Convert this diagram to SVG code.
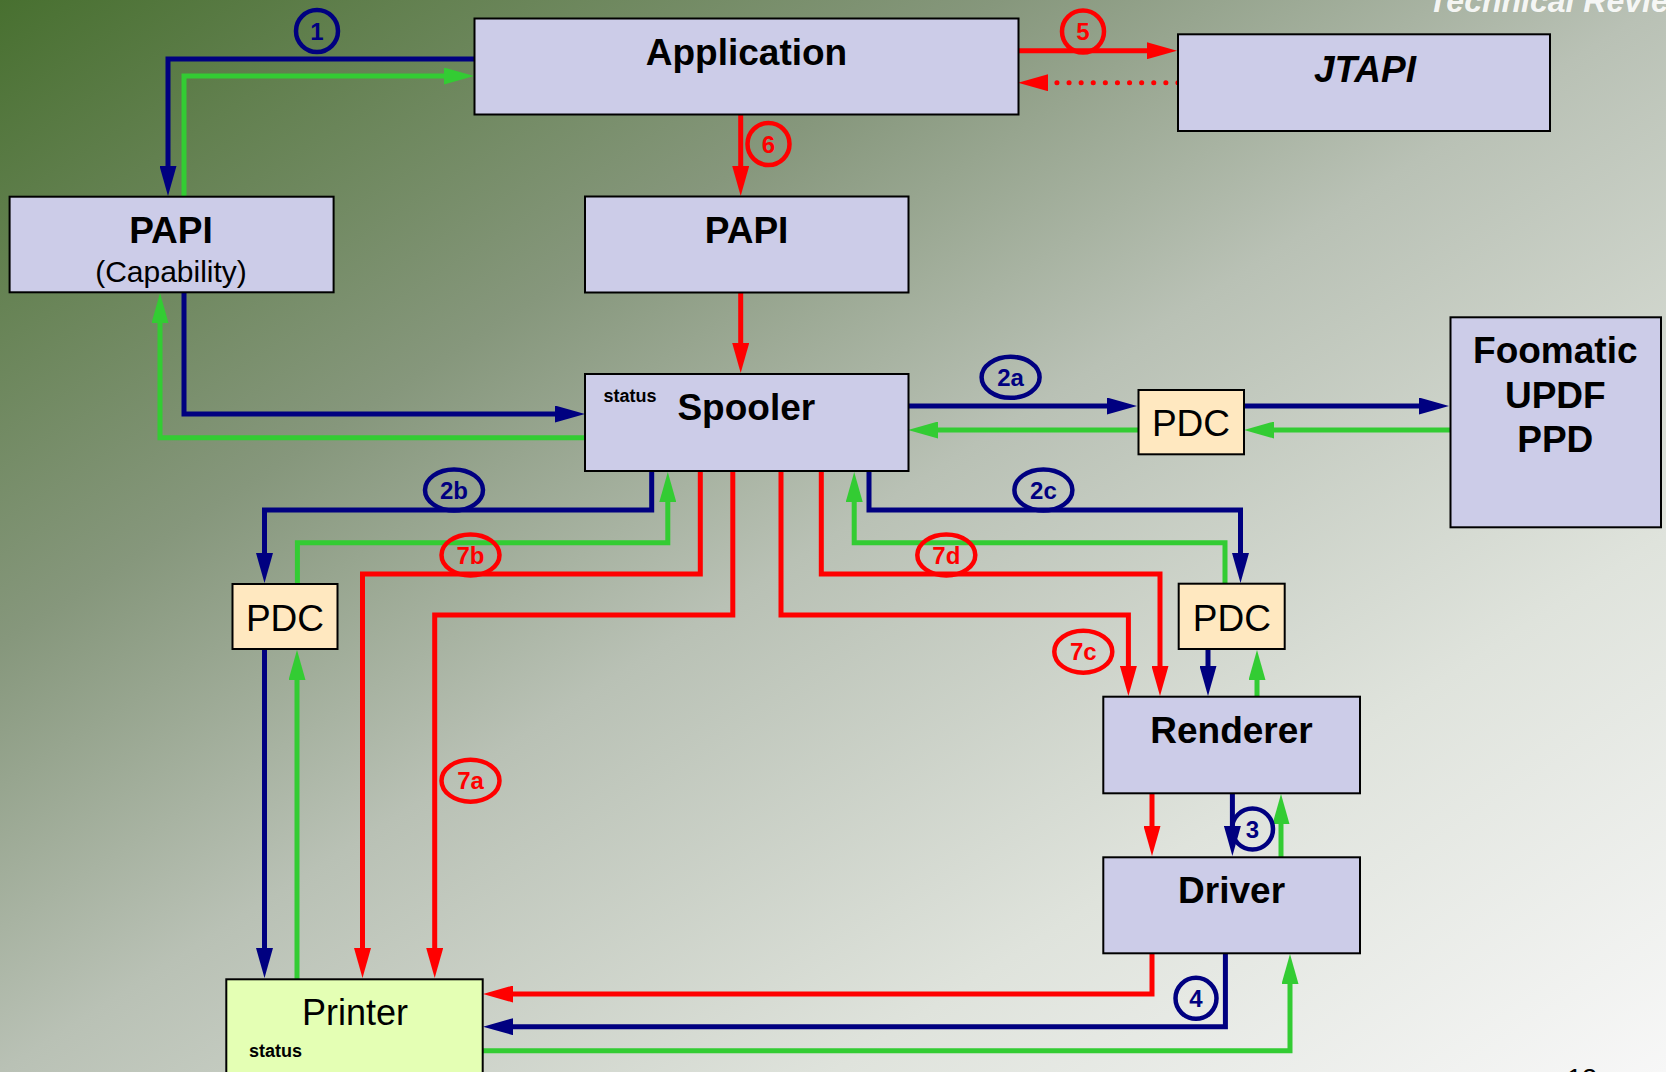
<svg xmlns="http://www.w3.org/2000/svg" width="1666" height="1072" viewBox="0 0 1666 1072">
<defs>
<linearGradient id="bg" x1="0" y1="0" x2="1" y2="1">
<stop offset="0" stop-color="#487030"/>
<stop offset="0.12" stop-color="#62804f"/>
<stop offset="0.3" stop-color="#86977c"/>
<stop offset="0.5" stop-color="#b9c1b5"/>
<stop offset="0.75" stop-color="#dfe3dc"/>
<stop offset="1" stop-color="#f7f7f7"/>
</linearGradient>
<marker id="aN" markerUnits="userSpaceOnUse" markerWidth="30" markerHeight="17" refX="2" refY="8.5" orient="auto"><path d="M0,0 L30,8.5 L0,17 z" fill="#000080"/></marker>
<marker id="aG" markerUnits="userSpaceOnUse" markerWidth="30" markerHeight="17" refX="2" refY="8.5" orient="auto"><path d="M0,0 L30,8.5 L0,17 z" fill="#33cc33"/></marker>
<marker id="aR" markerUnits="userSpaceOnUse" markerWidth="30" markerHeight="17" refX="2" refY="8.5" orient="auto"><path d="M0,0 L30,8.5 L0,17 z" fill="#ff0000"/></marker>
<style>
.box{fill:#ccccE8;stroke:#000;stroke-width:2}
.pdc{fill:#ffe8c0;stroke:#000;stroke-width:2}
.prn{fill:#e4ffb4;stroke:#000;stroke-width:2}
.t{font-family:"Liberation Sans",Arial,sans-serif;font-weight:bold;font-size:37px;text-anchor:middle;fill:#000}
.tr{font-family:"Liberation Sans",Arial,sans-serif;font-size:37px;text-anchor:middle;fill:#000}
.st{font-family:"Liberation Sans",Arial,sans-serif;font-weight:bold;font-size:18px;fill:#000}
.n{fill:none;stroke:#000080;stroke-width:5}
.g{fill:none;stroke:#33cc33;stroke-width:5}
.r{fill:none;stroke:#ff0000;stroke-width:5}
.ln{fill:none;stroke-width:4.5}
.lt{font-family:"Liberation Sans",Arial,sans-serif;font-weight:bold;font-size:24px;text-anchor:middle}
</style>
</defs>
<rect x="0" y="0" width="1666" height="1072" fill="url(#bg)"/>
<text x="1428" y="12" font-family="Liberation Sans, Arial, sans-serif" font-weight="bold" font-style="italic" font-size="32" fill="#ffffff" fill-opacity="0.9">Technical Review</text>
<text x="1567" y="1088" font-family="Liberation Sans, Arial, sans-serif" font-size="27" fill="#000">12</text>

<g id="connectors">
<path class="n" d="M474,59 H168 V168" marker-end="url(#aN)"/>
<path class="n" d="M184,292 V414 H557" marker-end="url(#aN)"/>
<path class="n" d="M908,406 H1109" marker-end="url(#aN)"/>
<path class="n" d="M1244,406 H1421" marker-end="url(#aN)"/>
<path class="n" d="M651.7,471 V510 H264.5 V555" marker-end="url(#aN)"/>
<path class="n" d="M869,471 V510 H1240.5 V555" marker-end="url(#aN)"/>
<path class="n" d="M264.5,649 V950" marker-end="url(#aN)"/>
<path class="n" d="M1208,649 V668" marker-end="url(#aN)"/>
<path class="n" d="M1232.4,793 V828" marker-end="url(#aN)"/>
<path class="n" d="M1225.4,953 V1026.7 H511" marker-end="url(#aN)"/>

<path class="g" d="M184,197 V76 H446" marker-end="url(#aG)"/>
<path class="g" d="M585,437.7 H160 V321" marker-end="url(#aG)"/>
<path class="g" d="M1138,430 H936" marker-end="url(#aG)"/>
<path class="g" d="M1450,430 H1272" marker-end="url(#aG)"/>
<path class="g" d="M297.4,584 V542.7 H667.8 V500" marker-end="url(#aG)"/>
<path class="g" d="M1225,584 V542.7 H854.2 V500" marker-end="url(#aG)"/>
<path class="g" d="M297,979 V678" marker-end="url(#aG)"/>
<path class="g" d="M1257,697 V678" marker-end="url(#aG)"/>
<path class="g" d="M1281,857 V822" marker-end="url(#aG)"/>
<path class="g" d="M483,1050.7 H1290 V982" marker-end="url(#aG)"/>

<path class="r" d="M740.7,115 V168" marker-end="url(#aR)"/>
<path class="r" d="M740.7,292 V345" marker-end="url(#aR)"/>
<path class="r" d="M1018,50.7 H1149" marker-end="url(#aR)"/>
<path class="r" d="M1178,82.7 H1046" stroke-linecap="round" stroke-dasharray="0.1 12" marker-end="url(#aR)"/>
<path class="r" d="M700.3,471 V574 H362.5 V950" marker-end="url(#aR)"/>
<path class="r" d="M732.8,471 V615 H434.7 V950" marker-end="url(#aR)"/>
<path class="r" d="M781,471 V615 H1128.4 V668" marker-end="url(#aR)"/>
<path class="r" d="M821.3,471 V574 H1160 V668" marker-end="url(#aR)"/>
<path class="r" d="M1152,793 V828" marker-end="url(#aR)"/>
<path class="r" d="M1152,953 V994 H511" marker-end="url(#aR)"/>
</g>

<g id="labels">
<circle class="ln" cx="317" cy="31" r="21" stroke="#000080"/><text class="lt" x="317" y="39.5" fill="#000080">1</text>
<circle class="ln" cx="1083" cy="31.5" r="21" stroke="#ff0000"/><text class="lt" x="1083" y="40" fill="#ff0000">5</text>
<circle class="ln" cx="768.5" cy="144" r="21" stroke="#ff0000"/><text class="lt" x="768.5" y="152.5" fill="#ff0000">6</text>
<ellipse class="ln" cx="1010.6" cy="377.3" rx="29" ry="20.5" stroke="#000080"/><text class="lt" x="1010.6" y="386" fill="#000080">2a</text>
<ellipse class="ln" cx="454" cy="490" rx="29" ry="20.5" stroke="#000080"/><text class="lt" x="454" y="498.5" fill="#000080">2b</text>
<ellipse class="ln" cx="1043.4" cy="490" rx="29" ry="20.5" stroke="#000080"/><text class="lt" x="1043.4" y="498.5" fill="#000080">2c</text>
<ellipse class="ln" cx="470.5" cy="555" rx="29" ry="20.5" stroke="#ff0000"/><text class="lt" x="470.5" y="563.5" fill="#ff0000">7b</text>
<ellipse class="ln" cx="946.3" cy="555" rx="29" ry="20.5" stroke="#ff0000"/><text class="lt" x="946.3" y="563.5" fill="#ff0000">7d</text>
<ellipse class="ln" cx="1083.3" cy="651.7" rx="29" ry="21" stroke="#ff0000"/><text class="lt" x="1083.3" y="660.2" fill="#ff0000">7c</text>
<ellipse class="ln" cx="470.5" cy="780.7" rx="29" ry="21" stroke="#ff0000"/><text class="lt" x="470.5" y="789.2" fill="#ff0000">7a</text>
<circle class="ln" cx="1252.5" cy="829" r="20.5" stroke="#000080"/><text class="lt" x="1252.5" y="837.5" fill="#000080">3</text>
<circle class="ln" cx="1196" cy="998.3" r="20.5" stroke="#000080"/><text class="lt" x="1196" y="1006.8" fill="#000080">4</text>
</g>

<g id="application"><rect class="box" x="474.5" y="18.5" width="544" height="96"/><text class="t" x="746.5" y="65">Application</text></g>
<g id="jtapi"><rect class="box" x="1178" y="34.3" width="372" height="96.7"/><text class="t" x="1365" y="82" font-style="italic">JTAPI</text></g>
<g id="papi-capability"><rect class="box" x="9.6" y="196.7" width="324" height="95.6"/><text class="t" x="171" y="243.3">PAPI</text><text class="tr" x="171" y="282" font-size="30px" style="font-size:30px">(Capability)</text></g>
<g id="papi"><rect class="box" x="585" y="196.5" width="323.5" height="96"/><text class="t" x="746.6" y="243.3">PAPI</text></g>
<g id="spooler"><rect class="box" x="585" y="374" width="323.5" height="97"/><text class="st" x="603.5" y="401.7">status</text><text class="t" x="746.3" y="420">Spooler</text></g>
<g id="pdc-right"><rect class="pdc" x="1138.5" y="390" width="105.5" height="64.3"/><text class="tr" x="1191" y="436">PDC</text></g>
<g id="foomatic"><rect class="box" x="1450.5" y="317.3" width="210.5" height="210"/><text class="t" x="1555.3" y="363.3">Foomatic</text><text class="t" x="1555.3" y="408.3">UPDF</text><text class="t" x="1555.3" y="452.3">PPD</text></g>
<g id="pdc-left"><rect class="pdc" x="232.5" y="584" width="105" height="65"/><text class="tr" x="285" y="631">PDC</text></g>
<g id="pdc-renderer"><rect class="pdc" x="1178.7" y="583.7" width="106" height="65.3"/><text class="tr" x="1231.8" y="631">PDC</text></g>
<g id="renderer"><rect class="box" x="1103.3" y="696.7" width="256.7" height="96.6"/><text class="t" x="1231.5" y="743.3">Renderer</text></g>
<g id="driver"><rect class="box" x="1103.3" y="857.3" width="256.7" height="96"/><text class="t" x="1231.6" y="903.3">Driver</text></g>
<g id="printer"><rect class="prn" x="226.3" y="979.3" width="256.4" height="120"/><text class="tr" x="355" y="1025" style="font-size:36px">Printer</text><text class="st" x="249" y="1057.3">status</text></g>
</svg>
